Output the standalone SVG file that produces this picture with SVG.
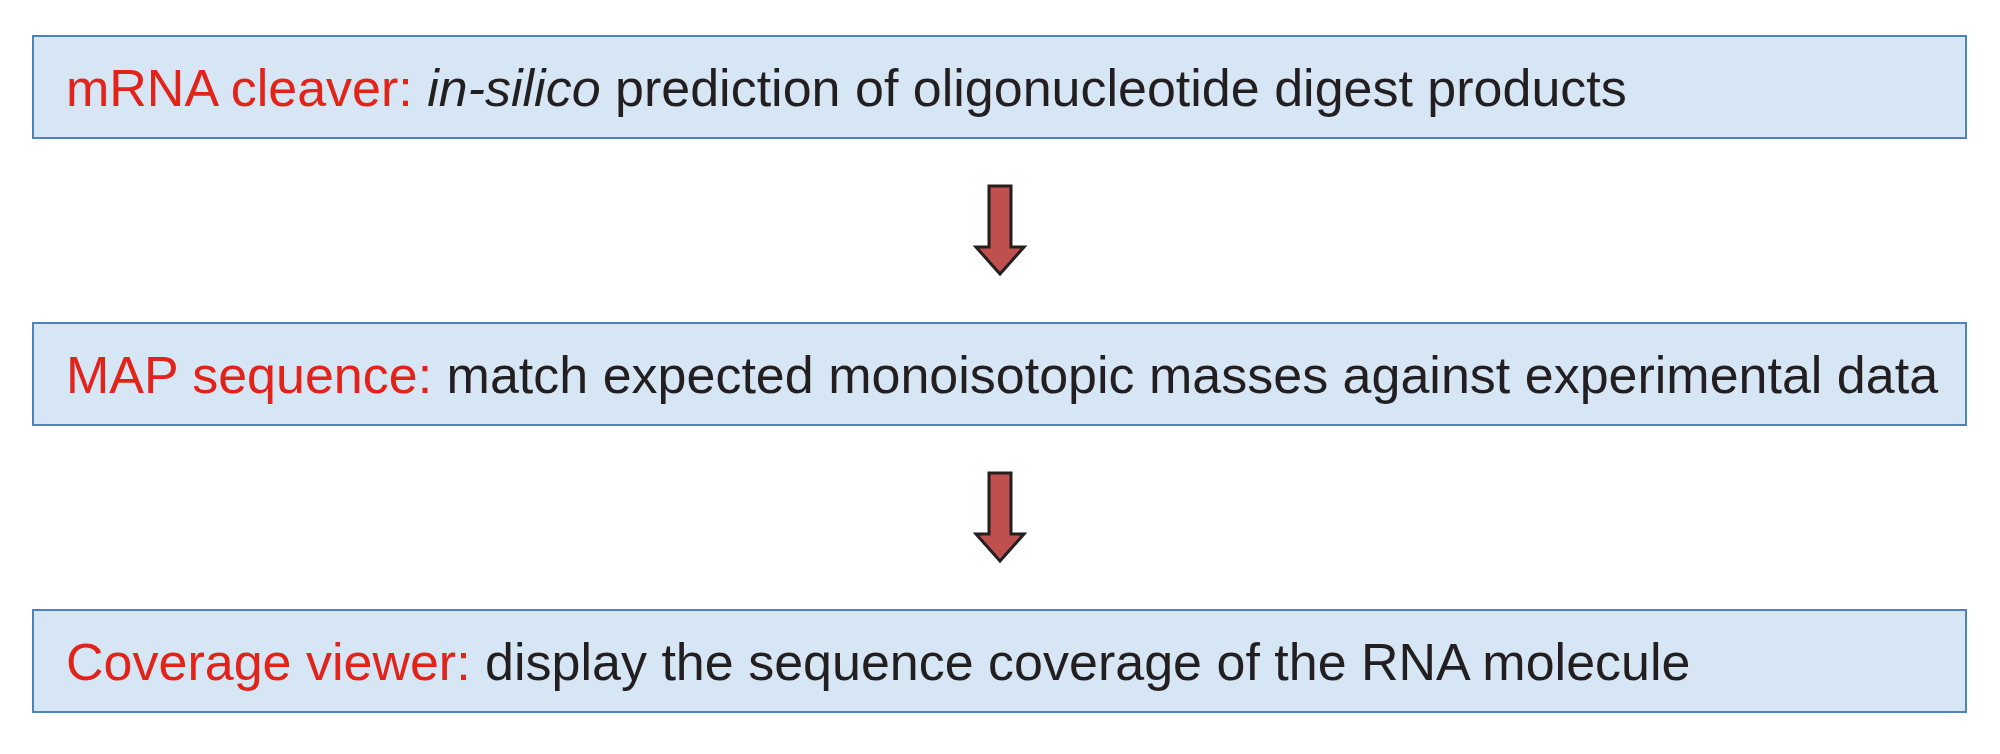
<svg xmlns="http://www.w3.org/2000/svg" width="2000" height="754" viewBox="0 0 2000 754">
<style>
.box{fill:#d6e6f5;stroke:#4f81bd;stroke-width:2}
.t{font-family:"Liberation Sans",Arial,sans-serif;font-size:52px;fill:#231f20}
.r{fill:#e2231a}
.arr{fill:#c0504d;stroke:#231f20;stroke-width:3;stroke-linejoin:miter}
</style>
<rect width="2000" height="754" fill="#fff"/>
<g id="node1"><rect class="box" x="33" y="36" width="1933" height="102"/>
<text class="t" x="66" y="106"><tspan class="r">mRNA cleaver: </tspan><tspan font-style="italic">in-silico</tspan> prediction of oligonucleotide digest products</text></g>
<g id="node2"><rect class="box" x="33" y="323" width="1933" height="102"/>
<text class="t" x="66" y="393"><tspan class="r">MAP sequence: </tspan>match expected monoisotopic masses against experimental data</text></g>
<g id="node3"><rect class="box" x="33" y="610" width="1933" height="102"/>
<text class="t" x="66" y="680"><tspan class="r">Coverage viewer: </tspan>display the sequence coverage of the RNA molecule</text></g>
<g id="connectors">
<path class="arr" d="M989 186H1011V247H1024L1000 274L976 247H989Z"/>
<path class="arr" d="M989 473H1011V534H1024L1000 561L976 534H989Z"/>
</g>
</svg>
